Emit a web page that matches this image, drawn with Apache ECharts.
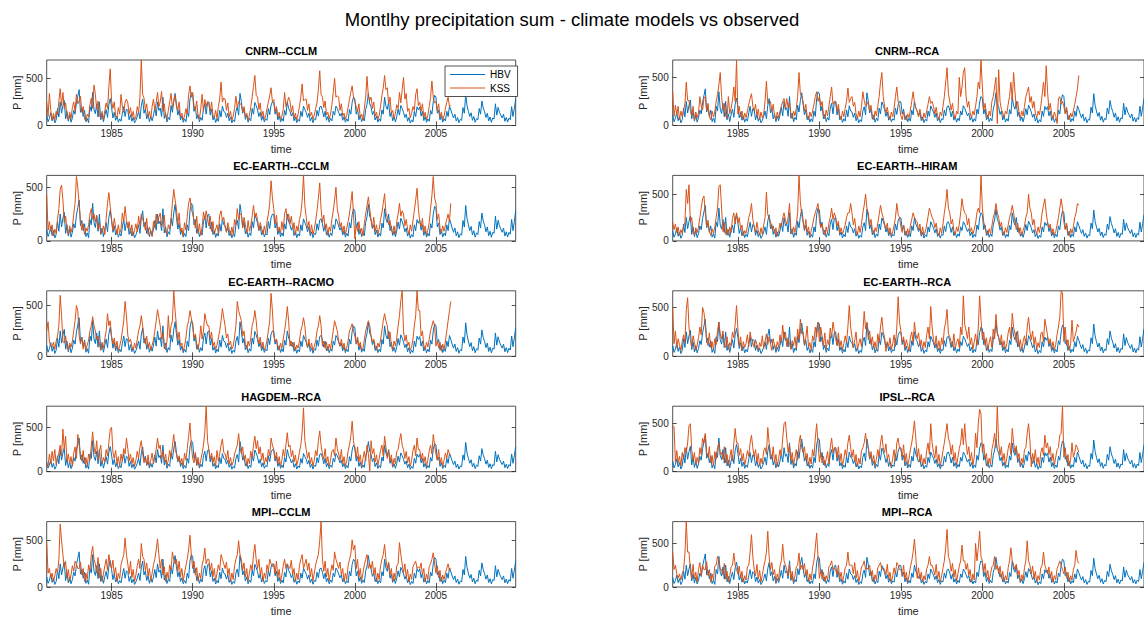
<!DOCTYPE html>
<html>
<head>
<meta charset="utf-8">
<script src="https://cdn.jsdelivr.net/npm/echarts@6/dist/echarts.min.js"></script>
<style>
  html, body { margin: 0; padding: 0; background: #fff; }
  #chart { width: 1144px; height: 617px; }
</style>
</head>
<body>
<div id="chart"></div>
<script>
// Monthly series start in January 1981; one value per month.
const startYear = 1981;
const mainTitle = 'Montlhy precipitation sum - climate models vs observed';
const seriesNames = ['HBV', 'KSS'];
const xTickYears = [1985, 1990, 1995, 2000, 2005];
const yTickValues = [0, 500];
const panelTitles = [
  'CNRM--CCLM', 'CNRM--RCA',
  'EC-EARTH--CCLM', 'EC-EARTH--HIRAM',
  'EC-EARTH--RACMO', 'EC-EARTH--RCA',
  'HAGDEM--RCA', 'IPSL--RCA',
  'MPI--CCLM', 'MPI--RCA'
];

// HBV monthly sums [mm], Jan 1981 - Dec 2009
const hbv = [
  110,40,75,135,50,95,28,60,180,90,250,130,
  210,265,70,150,45,110,35,80,160,120,240,310,
  380,140,190,95,160,40,75,30,200,150,350,170,
  125,230,90,250,60,120,40,110,170,85,220,285,
  190,80,140,55,100,35,70,45,130,200,95,175,
  160,60,115,45,85,28,55,95,150,70,210,280,
  130,175,70,120,40,95,50,110,190,100,250,160,
  185,95,300,75,130,38,85,60,210,140,260,340,
  220,110,165,60,100,35,70,40,150,95,280,350,
  330,150,200,70,115,40,85,55,180,230,120,240,
  250,110,175,60,95,32,70,45,160,90,205,150,
  140,85,130,50,90,28,60,40,150,195,110,340,
  255,130,175,65,110,35,75,50,180,120,245,210,
  165,95,140,55,100,38,70,55,180,115,215,250,
  245,120,170,60,105,38,75,45,160,110,250,180,
  150,100,135,50,90,30,65,45,150,95,205,170,
  140,85,130,48,85,30,70,60,160,100,195,205,
  160,90,150,55,95,35,75,50,150,110,205,180,
  140,100,130,55,95,35,70,45,170,120,245,300,
  280,120,170,60,110,40,75,48,170,225,340,230,
  195,115,150,58,100,36,70,45,165,120,300,205,
  170,250,95,140,50,90,38,95,175,110,212,180,
  140,85,120,45,85,26,60,38,150,95,198,165,
  195,100,150,52,95,34,70,45,160,120,250,320,
  300,130,165,60,105,36,72,48,150,95,205,165,
  120,80,120,48,85,30,65,55,190,130,330,210,
  150,95,135,55,95,35,75,60,180,120,260,185,
  145,85,130,48,90,34,80,70,230,110,192,140,
  110,80,120,45,85,36,80,62,200,95,182,280
];

// KSS monthly sums [mm] per climate model, Jan 1981 - Dec 2005
const kssCnrmCclm = [
  250,95,340,160,55,130,60,150,110,260,390,210,
  350,180,240,90,60,140,75,190,250,150,330,230,
  260,310,140,200,70,45,120,90,220,290,180,430,
  330,170,260,110,75,150,60,160,240,180,410,600,
  260,180,250,100,85,190,120,330,200,140,245,280,
  240,120,190,85,150,60,90,200,140,300,694,330,
  290,170,230,90,150,70,200,280,160,240,350,200,
  250,360,150,230,95,70,160,250,340,190,255,320,
  210,160,250,90,130,60,100,180,120,330,420,300,
  350,210,160,260,95,70,180,330,150,275,200,255,
  230,150,250,110,85,160,70,200,280,460,250,290,
  280,160,240,90,150,55,100,180,310,190,255,230,
  220,140,200,95,130,55,110,200,300,415,530,320,
  300,170,240,90,150,65,100,180,245,320,400,250,
  275,150,200,95,140,65,100,170,350,200,245,300,
  255,140,210,80,130,55,120,200,300,440,260,275,
  280,160,230,100,140,65,110,180,245,380,580,330,
  300,190,260,110,140,70,120,220,350,500,300,315,
  300,160,230,100,130,65,110,190,275,350,420,300,
  250,200,150,230,80,120,60,180,300,520,310,265,
  300,180,250,100,140,65,110,200,320,395,530,380,
  400,230,300,130,160,70,130,220,180,350,240,380,
  510,280,340,150,180,80,130,200,160,330,390,210,
  245,150,230,90,140,60,110,200,295,470,300,240,
  250,160,230,90,140,60,100,180,245,300,200,215
];
const kssCnrmRca = [
  350,95,210,110,200,60,150,90,150,230,450,260,
  260,150,100,200,50,140,80,130,300,200,160,280,
  300,150,230,90,60,150,90,140,250,320,420,550,
  300,160,230,100,70,300,120,180,260,400,250,680,
  120,200,90,150,60,130,80,150,220,280,330,200,
  150,220,100,170,60,140,80,120,250,460,230,250,
  250,150,220,100,60,140,80,150,200,250,280,180,
  280,180,240,120,70,150,100,180,300,550,330,300,
  250,150,220,100,60,140,90,150,220,300,350,250,
  300,200,250,110,70,160,100,200,300,400,220,250,
  250,150,220,100,60,150,90,180,250,390,240,280,
  300,200,240,120,70,150,90,200,350,260,200,220,
  250,150,210,100,60,150,100,200,300,450,550,300,
  200,130,190,100,60,140,90,180,300,400,250,200,
  100,60,140,90,55,120,80,160,250,350,240,180,
  150,90,170,90,55,130,80,150,220,300,230,250,
  200,120,190,100,60,140,100,200,300,450,600,330,
  250,160,230,120,70,150,120,500,300,400,550,600,
  300,190,250,130,80,150,110,200,300,450,380,680,
  400,160,230,120,70,150,100,250,300,400,500,20,
  580,250,170,130,80,150,120,220,300,450,260,550,
  350,180,250,130,80,150,100,200,300,350,400,240,
  300,180,250,130,80,150,110,200,320,450,300,620,
  350,160,230,120,70,140,100,20,280,300,220,250,
  200,120,190,100,60,130,90,150,220,300,380,520
];
const kssEcEarthCclm = [
  430,100,180,90,150,45,110,70,200,300,480,520,
  380,170,230,100,60,140,80,130,250,350,600,500,
  350,180,100,160,60,120,90,150,250,300,200,250,
  180,240,110,170,65,90,140,60,210,350,450,320,
  200,95,210,130,60,150,70,110,260,180,320,200,
  120,180,70,150,45,100,160,85,230,140,250,200,
  170,100,210,60,130,90,40,180,120,250,160,220,
  260,130,180,240,80,60,150,110,200,350,480,380,
  300,150,260,90,120,45,170,100,230,350,400,300,
  250,190,120,230,70,160,50,130,270,200,280,210,
  140,230,90,180,60,110,150,70,240,280,190,220,
  130,80,170,110,50,130,60,200,150,300,200,250,
  250,120,220,150,70,190,90,140,230,330,220,260,
  200,100,170,120,60,140,70,180,250,350,560,400,
  300,160,240,90,130,70,180,100,250,300,200,250,
  160,230,110,170,55,140,90,200,250,380,610,330,
  220,120,180,70,150,60,110,190,280,400,540,300,
  170,240,110,160,50,130,90,200,280,380,500,300,
  230,130,170,80,140,60,120,180,250,350,460,250,
  20,150,90,180,70,120,50,160,250,330,410,300,
  190,120,220,90,150,60,110,200,260,350,440,260,
  220,150,190,100,70,140,60,180,250,350,230,280,
  250,140,200,110,60,150,90,190,280,380,490,300,
  180,130,210,80,140,55,100,170,300,420,600,400,
  350,200,250,120,70,140,90,150,200,250,180,350
];
const kssEcEarthHiram = [
  200,120,180,90,150,60,120,80,150,200,550,400,
  600,200,250,100,60,140,90,150,250,350,450,480,
  300,150,220,100,60,130,80,150,250,350,580,600,
  350,100,200,70,130,60,150,90,240,300,180,300,
  190,250,120,170,55,110,80,160,250,300,400,230,
  150,90,200,110,60,140,70,170,250,520,280,250,
  210,130,160,80,140,50,110,190,150,250,300,220,
  180,250,400,120,70,150,90,180,300,700,420,280,
  200,120,230,90,150,55,110,170,250,300,350,400,
  220,140,180,100,60,150,80,190,250,350,230,300,
  250,160,210,80,140,70,120,170,250,300,300,400,
  300,170,240,110,65,160,90,180,300,380,500,350,
  300,160,230,120,70,140,100,190,280,380,300,250,
  180,130,190,80,140,55,100,160,250,400,280,250,
  150,90,170,100,55,130,70,160,230,300,250,220,
  200,120,180,70,150,60,100,170,260,350,300,250,
  220,140,190,90,55,140,80,180,300,400,550,350,
  300,180,230,110,65,150,100,180,300,450,350,300,
  280,170,240,100,140,70,120,190,300,350,300,700,
  350,200,150,100,60,130,80,160,250,300,400,300,
  250,150,200,100,60,140,90,170,250,300,380,300,
  200,120,190,80,140,55,110,160,250,300,500,350,
  300,170,230,120,70,150,90,180,300,380,450,300,
  200,140,180,80,130,60,100,170,250,350,450,350,
  200,120,190,90,50,130,80,150,250,300,400,380
];
const kssEcEarthRacmo = [
  250,340,150,100,90,140,70,150,200,300,600,400,
  150,130,200,90,60,130,90,150,250,350,500,450,
  200,120,190,70,150,60,110,160,250,300,390,300,
  250,160,200,120,60,140,80,170,250,420,300,350,
  200,120,180,80,150,55,100,160,250,350,540,400,
  210,140,170,100,60,130,80,170,250,300,400,300,
  190,120,200,80,140,60,110,160,250,350,460,380,
  300,170,230,110,65,150,400,180,300,350,645,450,
  300,160,240,100,130,50,100,180,300,350,450,380,
  300,180,220,120,65,150,300,170,250,420,350,300,
  300,170,240,100,140,65,110,180,250,350,470,380,
  300,180,220,110,150,70,100,190,300,540,450,400,
  350,200,250,120,70,150,100,180,300,350,450,350,
  200,120,190,80,140,60,90,160,250,350,620,450,
  200,140,170,100,60,130,80,170,250,350,490,350,
  100,150,90,140,55,110,80,150,250,300,380,300,
  150,90,170,80,130,55,100,150,250,300,400,300,
  100,150,80,140,55,120,70,160,250,350,300,250,
  150,100,170,80,130,55,90,150,250,280,320,250,
  200,120,190,90,140,60,80,160,250,300,350,300,
  200,140,170,100,60,130,90,160,250,350,420,350,
  300,170,240,110,65,150,100,180,300,400,550,645,
  250,150,210,100,140,60,90,170,300,400,645,450,
  450,200,250,110,65,140,90,170,250,300,350,300,
  100,150,80,140,50,120,70,150,250,350,450,540
];
const kssEcEarthRca = [
  500,130,260,90,180,120,60,150,220,140,480,600,
  300,170,90,210,140,60,110,190,300,220,500,450,
  330,160,110,240,90,150,70,180,120,260,350,230,
  180,260,120,90,200,70,140,110,250,190,330,520,
  280,110,200,60,150,90,130,220,100,250,170,140,
  90,170,120,60,140,100,210,80,150,230,120,200,
  130,60,180,110,70,150,90,220,140,320,180,250,
  100,190,130,70,160,110,200,80,280,170,380,230,
  250,120,190,310,90,140,60,210,160,300,200,350,
  150,300,200,110,240,70,170,120,290,190,350,260,
  180,110,240,90,160,60,130,210,140,300,520,300,
  200,90,160,250,70,130,180,100,240,460,280,350,
  170,260,120,200,90,150,60,230,140,300,400,250,
  200,50,150,100,190,70,130,220,100,300,610,350,
  260,140,200,80,170,110,60,190,250,140,350,220,
  180,240,110,170,70,150,90,220,300,180,510,300,
  170,110,210,80,160,60,190,120,280,350,480,230,
  200,150,100,230,80,140,180,90,300,220,620,330,
  260,180,300,120,190,70,150,230,110,300,620,380,
  170,250,110,190,60,140,200,90,280,180,430,250,
  190,120,220,90,160,70,130,240,300,180,440,300,
  230,140,260,100,170,60,150,210,120,300,400,250,
  170,260,120,200,70,140,90,230,250,150,380,300,
  210,130,180,80,150,60,120,220,300,400,671,650,
  150,300,110,170,60,130,370,150,200,250,330,300
];
const kssHagdemRca = [
  100,60,200,90,230,120,250,80,150,210,300,180,
  480,250,400,120,200,90,170,60,210,280,150,420,
  300,180,120,240,90,160,70,200,130,290,450,280,
  200,350,130,230,300,90,160,110,250,180,330,480,
  500,220,150,240,90,170,60,200,120,260,200,380,
  260,120,200,90,160,60,130,230,150,280,350,200,
  100,160,80,190,60,130,210,90,170,250,380,260,
  300,150,230,110,200,70,130,240,160,290,420,250,
  200,120,180,90,150,60,210,130,260,400,550,300,
  150,100,220,80,160,60,130,210,300,450,739,350,
  250,140,210,100,170,60,240,120,200,300,370,220,
  200,130,240,90,160,70,110,200,250,300,430,280,
  200,280,130,190,60,150,90,230,160,300,400,260,
  350,200,280,130,210,80,160,110,250,180,380,300,
  250,140,220,90,170,60,130,250,170,300,440,280,
  300,170,240,110,190,70,130,220,300,450,720,350,
  250,150,220,90,160,60,130,240,180,350,460,300,
  200,140,260,100,170,60,130,230,250,180,380,260,
  200,130,250,90,170,60,120,230,300,400,570,350,
  250,150,280,110,190,60,150,230,120,300,200,10,
  350,200,260,110,190,70,150,240,300,180,400,280,
  150,240,110,190,60,150,90,230,250,350,430,300,
  250,150,230,100,170,60,130,240,300,180,380,250,
  250,140,210,100,170,60,130,230,300,200,420,300,
  200,130,250,90,160,55,130,210,150,250,200,180
];
const kssIpslRca = [
  480,470,100,220,90,160,60,200,130,250,200,300,
  480,500,230,120,200,70,150,90,250,180,350,300,
  400,200,150,260,90,170,60,210,130,250,300,180,
  200,130,260,90,180,60,140,230,110,300,450,300,
  300,170,240,110,190,65,130,220,160,300,380,250,
  150,230,100,190,60,140,80,220,250,180,460,300,
  200,130,260,90,180,55,140,230,160,350,500,520,
  350,200,280,110,200,65,150,230,120,300,380,250,
  200,260,120,190,55,150,80,230,160,350,500,300,
  100,200,90,160,60,130,210,80,250,350,200,250,
  250,150,260,100,190,60,130,230,160,300,380,250,
  150,230,100,180,55,140,80,220,250,300,400,260,
  250,140,210,100,170,60,130,230,160,300,380,250,
  200,290,130,180,90,55,140,230,110,300,350,240,
  250,150,280,100,190,60,130,230,300,400,530,350,
  150,240,100,180,60,140,80,220,300,180,500,300,
  200,140,270,90,180,55,130,220,300,400,500,350,
  300,180,280,110,200,65,150,240,300,450,280,500,
  300,180,260,110,200,65,150,400,250,500,650,600,
  200,290,130,190,55,140,80,230,300,400,250,682,
  300,170,260,110,190,65,140,240,300,180,450,300,
  200,270,130,190,60,140,90,230,250,400,500,330,
  50,190,110,230,80,150,60,200,250,170,380,250,
  300,180,260,110,190,65,150,230,250,380,400,682,
  150,250,100,180,55,130,300,150,200,280,250,200
];
const kssMpiCclm = [
  480,150,200,100,150,60,120,200,150,300,680,500,
  350,200,280,100,190,60,130,230,170,280,250,200,
  200,270,130,200,60,150,80,240,180,350,440,300,
  250,150,320,100,200,60,140,230,300,180,350,250,
  200,290,130,210,60,150,90,240,300,350,530,350,
  250,140,280,100,190,60,130,230,300,200,470,330,
  300,180,260,110,200,65,150,240,300,400,520,350,
  200,300,130,220,60,160,90,240,180,380,300,250,
  300,170,280,110,200,65,150,230,300,400,560,350,
  200,280,130,210,60,150,90,240,300,420,250,300,
  300,180,260,110,200,65,150,240,180,350,300,250,
  200,270,130,200,55,150,80,230,300,350,500,350,
  300,180,260,110,200,65,150,240,180,350,460,300,
  200,300,130,210,60,150,90,240,170,300,250,220,
  250,140,280,100,190,60,130,230,300,200,250,220,
  200,290,130,200,60,150,80,230,300,350,200,250,
  300,180,260,110,200,65,150,240,300,350,500,707,
  300,170,280,110,200,65,150,240,180,380,300,250,
  200,270,130,200,60,150,80,230,300,350,510,400,
  450,200,300,110,200,65,150,240,300,350,200,250,
  200,280,130,210,55,150,80,230,300,350,460,300,
  200,270,130,200,60,150,80,230,250,480,350,250,
  150,250,100,190,55,140,80,220,250,280,200,220,
  200,260,130,200,55,140,80,220,250,300,370,250,
  150,230,100,180,55,130,80,150,200,250,180,200
];
const kssMpiRca = [
  400,200,250,150,100,150,80,150,200,380,750,400,
  400,200,100,260,90,170,60,200,280,130,250,200,
  200,290,130,200,55,150,80,240,250,350,300,200,
  200,140,270,90,180,55,130,230,250,390,250,200,
  150,240,100,180,55,130,80,230,250,400,600,350,
  200,130,260,90,190,55,140,230,300,400,640,350,
  200,280,140,200,55,150,80,240,300,490,300,250,
  200,130,260,90,180,55,130,230,250,390,200,250,
  200,270,130,200,55,150,80,230,300,450,620,350,
  100,200,90,170,60,130,80,230,250,300,200,220,
  200,140,250,90,170,55,130,220,250,400,250,250,
  250,150,280,100,190,60,130,230,250,300,200,220,
  200,250,130,190,55,140,80,220,250,280,200,220,
  200,140,260,90,170,55,130,220,150,280,250,200,
  200,130,250,90,170,55,130,230,300,400,550,350,
  100,220,90,170,55,130,80,210,250,350,250,250,
  200,140,260,90,180,55,130,220,300,450,660,350,
  300,180,270,110,200,65,150,240,300,480,300,300,
  200,270,130,200,55,150,80,500,300,450,640,350,
  300,170,270,110,190,65,150,230,250,350,200,250,
  150,240,100,180,55,130,80,220,300,450,300,250,
  200,260,130,190,55,140,80,220,300,530,300,250,
  150,240,100,180,55,130,80,220,250,400,250,200,
  150,230,100,180,55,130,80,210,250,300,250,200,
  150,230,100,170,55,130,80,200,250,420,300,270
];

const kssByPanel = [
  kssCnrmCclm, kssCnrmRca,
  kssEcEarthCclm, kssEcEarthHiram,
  kssEcEarthRacmo, kssEcEarthRca,
  kssHagdemRca, kssIpslRca,
  kssMpiCclm, kssMpiRca
];

// ---- layout and styling ----
const FONT = '"Liberation Sans", Arial, Helvetica, sans-serif';
const AXIS_COLOR = '#262626';
const HBV_COLOR = '#0072BD';
const KSS_COLOR = '#D95319';
const colLeft = [46.7, 672.7];
const colWidth = [469, 472];   // right column runs off the canvas edge
const rowTop = [60, 175.4, 290.8, 406.2, 521.6];
const plotH = 65.5;

const toPairs = values => values.map((v, i) => [startYear + i / 12, v]);
const xMin = startYear;
const xMax = startYear + (hbv.length - 1) / 12;
const hbvPairs = toPairs(hbv);
const yearLabel = v => String(Math.round(v));

const option = {
  animation: false,
  backgroundColor: '#ffffff',
  textStyle: { fontFamily: FONT },
  legend: {
    data: seriesNames,
    orient: 'vertical',
    left: 445,
    top: 66,
    icon: 'rect',
    itemWidth: 35,
    itemHeight: 1.2,
    itemGap: 1.5,
    padding: [2.5, 7, 2.5, 5],
    borderColor: AXIS_COLOR,
    borderWidth: 0.8,
    backgroundColor: '#ffffff',
    textStyle: { fontSize: 10, color: '#000', fontFamily: FONT, lineHeight: 12 },
    selectedMode: false,
    z: 20
  },
  graphic: [{
    type: 'text',
    x: 572, y: 19,
    style: {
      text: mainTitle, fill: '#000',
      font: '18.5px ' + FONT,
      align: 'center', verticalAlign: 'middle',
      textAlign: 'center', textVerticalAlign: 'middle'
    }
  }],
  grid: [], xAxis: [], yAxis: [], series: []
};

panelTitles.forEach((title, i) => {
  const col = i % 2;
  const row = Math.floor(i / 2);
  const left = colLeft[col];
  const width = colWidth[col];
  const top = rowTop[row];
  const kss = kssByPanel[i];
  const yMax = Math.max(...kss);

  option.grid.push({
    left: left, top: top, width: width, height: plotH,
    show: true, borderColor: AXIS_COLOR, borderWidth: 0.8,
    backgroundColor: 'transparent'
  });

  option.graphic.push({
    type: 'text',
    x: 46.7 + col * 626 + 469 / 2, y: top - 9.3,
    style: {
      text: title, fill: '#000',
      font: 'bold 11px ' + FONT,
      align: 'center', verticalAlign: 'middle',
      textAlign: 'center', textVerticalAlign: 'middle'
    }
  });

  const tickStyle = { inside: true, length: 4, lineStyle: { color: AXIS_COLOR, width: 0.8 } };

  // bottom axis with labels, top axis with ticks only
  option.xAxis.push({
    gridIndex: i, type: 'value', min: xMin, max: xMax, position: 'bottom',
    name: 'time', nameLocation: 'middle', nameGap: 18,
    nameTextStyle: { fontSize: 11, color: AXIS_COLOR, fontFamily: FONT },
    axisLine: { show: false },
    axisTick: Object.assign({ customValues: xTickYears }, tickStyle),
    axisLabel: { customValues: xTickYears, formatter: yearLabel, fontSize: 10, color: AXIS_COLOR, margin: 3, fontFamily: FONT },
    splitLine: { show: false }
  });
  option.xAxis.push({
    gridIndex: i, type: 'value', min: xMin, max: xMax, position: 'top',
    axisLine: { show: false },
    axisTick: Object.assign({ customValues: xTickYears }, tickStyle),
    axisLabel: { show: false },
    splitLine: { show: false }
  });

  option.yAxis.push({
    gridIndex: i, type: 'value', min: 0, max: yMax, position: 'left',
    name: 'P [mm]', nameLocation: 'middle', nameGap: 19, nameRotate: 90,
    nameTextStyle: { fontSize: 11, color: AXIS_COLOR, fontFamily: FONT },
    axisLine: { show: false },
    axisTick: Object.assign({ customValues: yTickValues }, tickStyle),
    axisLabel: { customValues: yTickValues, fontSize: 10, color: AXIS_COLOR, margin: 4, fontFamily: FONT },
    splitLine: { show: false }
  });
  option.yAxis.push({
    gridIndex: i, type: 'value', min: 0, max: yMax, position: 'right',
    axisLine: { show: false },
    axisTick: Object.assign({ customValues: yTickValues }, tickStyle),
    axisLabel: { show: false },
    splitLine: { show: false }
  });

  option.series.push({
    name: seriesNames[0], type: 'line',
    xAxisIndex: 2 * i, yAxisIndex: 2 * i,
    data: hbvPairs, symbol: 'none',
    lineStyle: { color: HBV_COLOR, width: 1 },
    itemStyle: { color: HBV_COLOR }
  });
  option.series.push({
    name: seriesNames[1], type: 'line',
    xAxisIndex: 2 * i, yAxisIndex: 2 * i,
    data: toPairs(kss), symbol: 'none',
    lineStyle: { color: KSS_COLOR, width: 1 },
    itemStyle: { color: KSS_COLOR }
  });
});

const chart = echarts.init(document.getElementById('chart'), null, { renderer: 'svg' });
chart.setOption(option);
</script>
</body>
</html>
